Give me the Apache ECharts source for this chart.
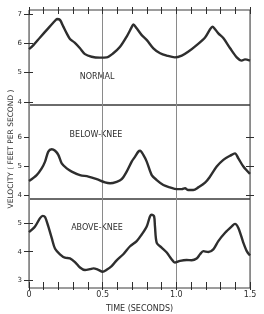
<!DOCTYPE html>
<html><head><meta charset="utf-8">
<script src="https://cdn.jsdelivr.net/npm/echarts@6/dist/echarts.min.js"></script>
<style>html,body{margin:0;padding:0;background:#fff}#c{width:264px;height:314px}</style>
</head><body><div id="c"></div>
<script>
// Time in seconds
const normalT = [0, 0.03, 0.075, 0.13, 0.177, 0.19, 0.21, 0.233, 0.256, 0.278, 0.31, 0.346, 0.38, 0.425, 0.48, 0.527, 0.572, 0.618, 0.663, 0.697, 0.708, 0.731, 0.765, 0.8, 0.844, 0.89, 0.935, 0.99, 1.037, 1.08, 1.138, 1.195, 1.229, 1.245, 1.263, 1.285, 1.32, 1.365, 1.41, 1.444, 1.466, 1.5];
const normalV = [5.8, 5.94, 6.2, 6.51, 6.77, 6.83, 6.8, 6.57, 6.34, 6.15, 6.02, 5.83, 5.63, 5.54, 5.51, 5.52, 5.66, 5.88, 6.23, 6.55, 6.64, 6.51, 6.28, 6.11, 5.83, 5.66, 5.58, 5.52, 5.58, 5.71, 5.94, 6.2, 6.48, 6.57, 6.48, 6.34, 6.17, 5.83, 5.52, 5.41, 5.45, 5.41];

const belowT = [0, 0.052, 0.086, 0.109, 0.131, 0.154, 0.177, 0.199, 0.222, 0.256, 0.29, 0.346, 0.403, 0.46, 0.516, 0.55, 0.595, 0.629, 0.663, 0.697, 0.72, 0.742, 0.754, 0.776, 0.799, 0.833, 0.867, 0.912, 0.957, 1.003, 1.037, 1.059, 1.08, 1.115, 1.149, 1.195, 1.229, 1.274, 1.319, 1.365, 1.398, 1.421, 1.455, 1.5];
const belowV = [4.5, 4.7, 4.93, 5.16, 5.5, 5.58, 5.53, 5.39, 5.1, 4.93, 4.82, 4.7, 4.65, 4.56, 4.45, 4.42, 4.47, 4.56, 4.82, 5.16, 5.33, 5.5, 5.53, 5.39, 5.16, 4.7, 4.53, 4.36, 4.28, 4.22, 4.22, 4.25, 4.19, 4.19, 4.28, 4.44, 4.65, 4.99, 5.22, 5.36, 5.44, 5.27, 4.99, 4.74];

const aboveT = [0, 0.041, 0.075, 0.093, 0.109, 0.131, 0.154, 0.177, 0.21, 0.244, 0.278, 0.312, 0.346, 0.38, 0.414, 0.437, 0.47, 0.5, 0.527, 0.561, 0.595, 0.64, 0.686, 0.731, 0.765, 0.799, 0.821, 0.833, 0.849, 0.855, 0.867, 0.9, 0.935, 0.969, 0.99, 1.025, 1.07, 1.104, 1.138, 1.161, 1.183, 1.217, 1.251, 1.285, 1.331, 1.376, 1.398, 1.421, 1.455, 1.478, 1.5];
const aboveV = [4.68, 4.88, 5.17, 5.25, 5.21, 4.88, 4.48, 4.1, 3.91, 3.79, 3.77, 3.64, 3.45, 3.36, 3.39, 3.42, 3.37, 3.3, 3.37, 3.5, 3.7, 3.91, 4.19, 4.37, 4.6, 4.88, 5.23, 5.29, 5.23, 4.88, 4.31, 4.14, 3.97, 3.73, 3.62, 3.68, 3.71, 3.7, 3.76, 3.91, 4.02, 3.99, 4.08, 4.37, 4.66, 4.88, 4.97, 4.83, 4.31, 4.02, 3.87];

const panelNames = ['NORMAL', 'BELOW-KNEE', 'ABOVE-KNEE'];
const yTicks = [[4, 5, 6, 7], [4, 5, 6], [3, 4, 5]];
const xTickValues = [0, 0.1, 0.2, 0.3, 0.4, 0.5, 0.6, 0.7, 0.8, 0.9, 1.0, 1.1, 1.2, 1.3, 1.4, 1.5];
const xLabels = ['0', '0.5', '1.0', '1.5'];
const yTitle = 'VELOCITY ( FEET PER SECOND )';
const xTitle = 'TIME (SECONDS)';

const INK = '#2e2e2e';
const FONT = 'DejaVu Sans';
const grids = [
  {left: 29, right: 14, top: 10, height: 95},
  {left: 29, right: 14, top: 105, height: 94},
  {left: 29, right: 14, top: 199, height: 90}
];
const yRanges = [[3.894, 7.137], [3.884, 7.09], [2.734, 5.838]];

const gridOpts = grids.map(g => Object.assign({show: true, borderColor: '#3a3a3a', borderWidth: 1, backgroundColor: 'transparent'}, g));

const xAxes = [];
// main x axes: data scale, split lines at 0.5 s, labels on the bottom panel
for (let i = 0; i < 3; i++) {
  const isBottom = i === 2;
  xAxes.push({
    type: 'value', gridIndex: i, min: 0, max: 1.5, interval: 0.5, position: 'bottom',
    axisLine: {show: false},
    axisTick: {show: false},
    axisLabel: {show: isBottom, margin: 3, fontSize: 8, fontFamily: FONT, color: INK,
      formatter: v => xLabels[Math.round(v / 0.5)]},
    splitLine: {show: true, lineStyle: {color: '#8a8a8a', width: 1}},
    name: isBottom ? xTitle : '', nameLocation: 'middle', nameGap: 17,
    nameTextStyle: {fontSize: 8, fontFamily: FONT, color: INK}
  });
}
// tick-only axes (every 0.1 s), crossing the frame
const tickAxis = (grid, pos, inside, len) => ({
  type: 'value', gridIndex: grid, min: 0, max: 1.5, interval: 0.5, position: pos,
  axisLine: {show: false},
  axisTick: {show: true, inside: inside, length: len, customValues: xTickValues, lineStyle: {color: INK, width: 1}},
  axisLabel: {show: false}, splitLine: {show: false}
});
xAxes.push(tickAxis(2, 'bottom', true, 6));
xAxes.push(tickAxis(2, 'bottom', false, 2));
xAxes.push(tickAxis(0, 'top', true, 4));
xAxes.push(tickAxis(0, 'top', false, 3));

const yAxes = [];
for (let i = 0; i < 3; i++) {
  yAxes.push({
    type: 'value', gridIndex: i, min: yRanges[i][0], max: yRanges[i][1], position: 'left',
    axisLine: {show: false},
    axisTick: {show: true, customValues: yTicks[i], length: 5, lineStyle: {color: INK}},
    axisLabel: {show: true, customValues: yTicks[i], margin: 7, fontSize: 7, fontFamily: FONT, color: INK},
    splitLine: {show: false}
  });
}
for (let i = 0; i < 3; i++) {
  [true, false].forEach(inside => {
    yAxes.push({
      type: 'value', gridIndex: i, min: yRanges[i][0], max: yRanges[i][1], position: 'right',
      axisLine: {show: false},
      axisTick: {show: true, inside: inside, customValues: yTicks[i], length: 4, lineStyle: {color: INK}},
      axisLabel: {show: false}, splitLine: {show: false}
    });
  });
}

const pairs = (t, v) => t.map((x, k) => [x, v[k]]);
const series = [[normalT, normalV], [belowT, belowV], [aboveT, aboveV]].map((d, i) => ({
  type: 'line', xAxisIndex: i, yAxisIndex: i, data: pairs(d[0], d[1]),
  showSymbol: false, smooth: 0.3, lineStyle: {color: INK, width: 2.4}, silent: true
}));

const labelPos = [[97, 77], [96, 135], [97, 228]];
const graphic = panelNames.map((n, i) => ({
  type: 'text', x: labelPos[i][0], y: labelPos[i][1],
  style: {text: n, font: '8px "' + FONT + '"', fill: INK, align: 'center', verticalAlign: 'middle'}
}));
graphic.push({
  type: 'text', x: 11, y: 149, rotation: Math.PI / 2,
  style: {text: yTitle, font: '7.5px "' + FONT + '"', fill: INK, align: 'center', verticalAlign: 'middle'}
});

const chart = echarts.init(document.getElementById('c'), null, {renderer: 'canvas'});
chart.setOption({
  animation: false,
  backgroundColor: '#fff',
  grid: gridOpts,
  xAxis: xAxes,
  yAxis: yAxes,
  series: series,
  graphic: graphic
});
</script>
</body></html>
